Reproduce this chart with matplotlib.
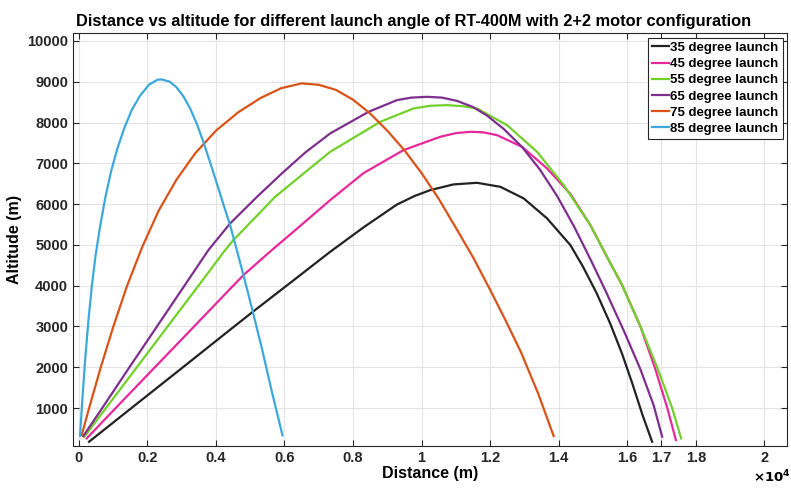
import matplotlib
matplotlib.use("Agg")
import matplotlib.pyplot as plt

# trajectories (distance m, altitude m)
d35 = [298, 1524, 3034, 4523, 5077, 6200, 7334, 8307, 9282, 9800, 10254, 10934, 11618,
       12298, 12978, 13661, 14341, 14700, 15100, 15500, 15850, 16150, 16450, 16727]
a35 = [174, 993, 1998, 2993, 3360, 4090, 4831, 5430, 5990, 6200, 6343, 6483, 6522,
       6424, 6140, 5650, 4995, 4480, 3830, 3080, 2330, 1600, 820, 174]

d45 = [231, 1066, 2216, 3355, 4502, 4803, 5632, 6480, 7334, 8307, 9474, 10546, 11000,
       11422, 11800, 12201, 12931, 13661, 14341, 14925, 15460, 15851, 16385, 16803,
       17170, 17420]
a45 = [257, 993, 1998, 2993, 3998, 4260, 4873, 5480, 6098, 6760, 7324, 7650, 7740,
       7772, 7760, 7691, 7404, 6875, 6250, 5485, 4627, 4015, 3000, 2000, 1000, 216]

d55 = [161, 785, 1691, 2584, 3489, 4269, 4511, 5728, 7334, 8794, 9766, 10250, 10742,
       11200, 11618, 12494, 13369, 14146, 14925, 15460, 15851, 16385, 16873, 17311, 17574]
a55 = [297, 993, 1998, 2993, 3998, 4873, 5118, 6179, 7282, 8017, 8345, 8410, 8426,
       8400, 8345, 7936, 7282, 6466, 5485, 4627, 4015, 3000, 2000, 1000, 257]

d65 = [131, 677, 1474, 2274, 3080, 3781, 4415, 5200, 5924, 6600, 7334, 8453, 9282,
       9700, 10158, 10600, 11034, 11500, 11910, 12400, 12931, 13450, 13953, 14450,
       14925, 15364, 15898, 16385, 16774, 17019]
a65 = [314, 993, 1998, 2993, 3998, 4873, 5527, 6180, 6752, 7260, 7733, 8262, 8549,
       8610, 8630, 8610, 8530, 8380, 8170, 7840, 7400, 6850, 6200, 5450, 4650, 3880,
       2900, 1950, 1060, 297]

d75 = [85, 300, 640, 1000, 1400, 1850, 2330, 2850, 3400, 4000, 4650, 5300, 5900,
       6500, 7000, 7500, 8000, 8500, 9000, 9500, 10000, 10500, 11000, 11500, 12000,
       12450, 12900, 13400, 13854]
a75 = [338, 1000, 2000, 2980, 3980, 4950, 5840, 6600, 7250, 7800, 8250, 8600, 8840,
       8960, 8925, 8800, 8560, 8220, 7800, 7320, 6760, 6130, 5420, 4700, 3900, 3150,
       2370, 1360, 313]

d85 = [35, 110, 190, 280, 380, 490, 620, 770, 940, 1120, 1320, 1540, 1780, 2050,
       2300, 2420, 2650, 2850, 3050, 3250, 3450, 3635, 3800, 4000, 4200, 4415, 4600,
       4803, 5077, 5350, 5632, 5942]
a85 = [320, 1300, 2250, 3150, 4000, 4750, 5450, 6150, 6800, 7350, 7850, 8300, 8650,
       8930, 9050, 9056, 9001, 8864, 8643, 8340, 7953, 7521, 7100, 6580, 6040, 5480,
       4900, 4260, 3360, 2430, 1400, 330]

angles = [35, 45, 55, 65, 75, 85]
colors = ["#222222", "#e6289b", "#72d02a", "#7e2f8e", "#d95319", "#3da8dc"]

x_ticks = [0, 2000, 4000, 6000, 8000, 10000, 12000, 14000, 16000, 17000, 18000, 20000]
x_labels = ["0", "0.2", "0.4", "0.6", "0.8", "1", "1.2", "1.4", "1.6", "1.7", "1.8", "2"]
y_ticks = list(range(1000, 10001, 1000))

plt.rcParams["font.family"] = ["Liberation Sans", "DejaVu Sans"]
plt.rcParams["font.weight"] = "bold"

fig = plt.figure(figsize=(7.91, 4.88), dpi=100)
ax = fig.add_axes([0.0923, 0.086, 0.903, 0.846])

series = [(d35, a35), (d45, a45), (d55, a55), (d65, a65), (d75, a75), (d85, a85)]
for (d, a), ang, c in zip(series, angles, colors):
    ax.plot(d, a, color=c, lw=1.6, label=f"{ang} degree launch")

ax.set_xlim(-170, 20670)
ax.set_ylim(69, 10190)
ax.set_xticks(x_ticks)
ax.set_xticklabels(x_labels)
ax.set_yticks(y_ticks)
ax.grid(True, color="#e3e3e3", lw=0.8)
ax.set_axisbelow(True)
ax.tick_params(direction="in", length=4, labelsize=10.5, width=0.8,
               top=True, right=True, colors="#262626")
for s in ax.spines.values():
    s.set_color("#262626")
    s.set_linewidth(0.8)

ax.set_title("Distance vs altitude for different launch angle of RT-400M with 2+2 motor configuration",
             fontsize=11.8, fontweight="bold", pad=5, x=0.477)
ax.set_xlabel("Distance (m)", fontsize=11.5, fontweight="bold", labelpad=1)
ax.set_ylabel("Altitude (m)", fontsize=11.5, fontweight="bold", labelpad=4)
fig.text(0.952, 0.006, r"$\times\mathbf{10^4}$", fontsize=9.5, ha="left", va="bottom")

leg = ax.legend(loc="upper right", fontsize=9.5, handlelength=1.3, handletextpad=0.1,
                borderpad=0.3, labelspacing=0.3, borderaxespad=0.35, fancybox=False,
                framealpha=1, edgecolor="#262626")
leg.get_frame().set_linewidth(0.8)

fig.savefig("out.png", dpi=100)
